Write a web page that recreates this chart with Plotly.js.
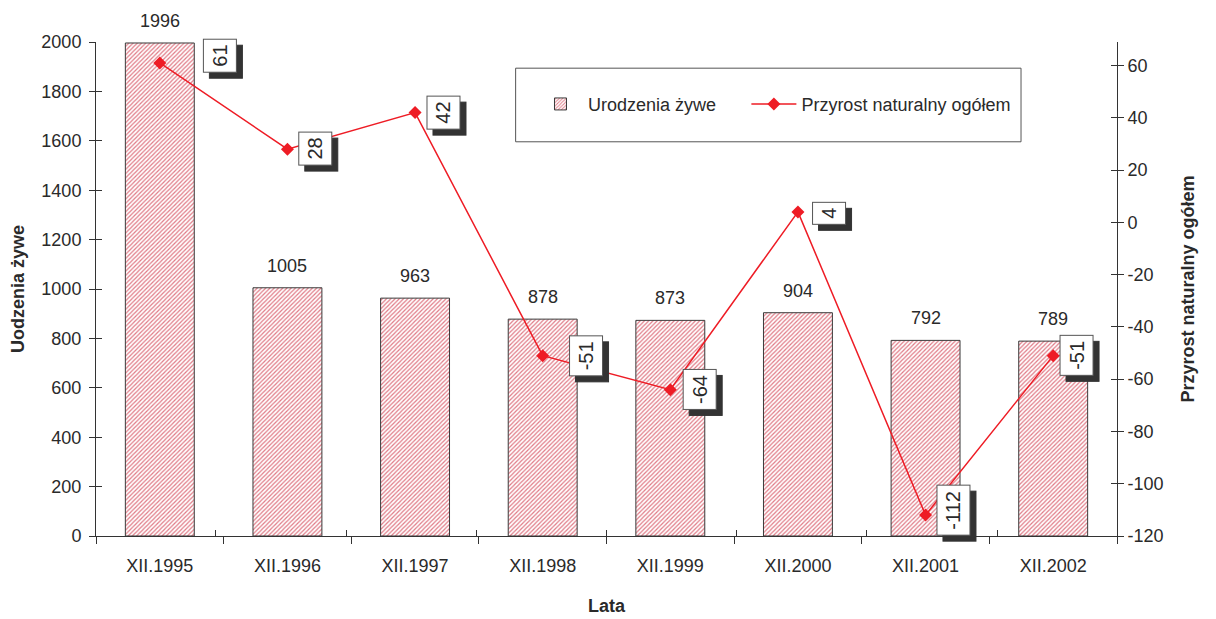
<!DOCTYPE html>
<html><head><meta charset="utf-8">
<script src="https://cdn.plot.ly/plotly-3.0.1.min.js"></script>
<style>body{margin:0;background:#fff}#chart{width:1216px;height:619px}</style>
</head><body><div id="chart"></div>
<script>
const categories = ['XII.1995','XII.1996','XII.1997','XII.1998','XII.1999','XII.2000','XII.2001','XII.2002'];
const births = [1996, 1005, 963, 878, 873, 904, 792, 789];
const growth = [61, 28, 42, -51, -64, 4, -112, -51];
const seriesNames = ['Urodzenia żywe', 'Przyrost naturalny ogółem'];
const rightTicks = [-120, -100, -80, -60, -40, -20, 0, 20, 40, 60];
// label box placement relative to each point (px)
const labelDx = [60, 28, 28, 43, 29, 31, 28, 23];
const labelDy = [7, 1, 0, 0, 0, -1, 5, 0];

const FONT = 'Liberation Sans Narrow, Arial Narrow, Liberation Sans, Arial, sans-serif';
const TXT = '#2a2a2a';
const AX = '#333333';

const traces = [
  {type:'bar', x:categories, y:births, name:seriesNames[0], yaxis:'y', width:0.54, legend:'legend',
   marker:{color:'#ffffff', line:{color:'#3a3a3a', width:1},
           pattern:{shape:'/', fgcolor:'#e07a86', bgcolor:'#ffffff', size:3, solidity:0.4, fillmode:'replace'}},
   hoverinfo:'x+y'},
  {type:'scatter', mode:'lines+markers', x:categories, y:growth, name:seriesNames[1], yaxis:'y2', legend:'legend2',
   line:{color:'#ee1c25', width:1.5}, marker:{symbol:'diamond', size:10, color:'#ee1c25'}, cliponaxis:false},
  {type:'scatter', mode:'markers', x:categories, y:births, xaxis:'x2', yaxis:'y3', showlegend:false,
   marker:{opacity:0}, hoverinfo:'skip'},
  {type:'scatter', mode:'markers', x:categories, y:growth, xaxis:'x2', yaxis:'y4', showlegend:false,
   marker:{opacity:0}, hoverinfo:'skip'}
];

const annotations = [];
births.forEach((v,i)=>{
  annotations.push({x:categories[i], y:v, xref:'x', yref:'y', text:String(v), showarrow:false,
    yanchor:'bottom', yshift:10, font:{family:FONT, size:18, color:TXT}});
});
growth.forEach((v,i)=>{
  const base = {x:categories[i], y:v, xref:'x', yref:'y2', text:String(v), showarrow:false,
    textangle:-90, borderpad:5, borderwidth:1};
  annotations.push(Object.assign({}, base, {xshift:labelDx[i]+6, yshift:labelDy[i]-6,
    bgcolor:'#333333', bordercolor:'#333333', font:{family:FONT, size:20, color:'#333333'}}));
  annotations.push(Object.assign({}, base, {xshift:labelDx[i], yshift:labelDy[i],
    bgcolor:'#ffffff', bordercolor:'#555555', font:{family:FONT, size:20, color:TXT}}));
});

const tickFont = {family:FONT, size:18, color:TXT};
const titleFont = {family:FONT, size:18, color:TXT, weight:'bold'};
const legendBase = {orientation:'h', y:0.874, xanchor:'left', yanchor:'middle',
  font:{family:FONT, size:18, color:TXT}, bgcolor:'rgba(0,0,0,0)', itemwidth:45};

const layout = {
  width:1216, height:619,
  margin:{l:96, r:99, t:42, b:83},
  paper_bgcolor:'#ffffff', plot_bgcolor:'#ffffff',
  font:{family:FONT, color:TXT},
  showlegend:true,
  legend:Object.assign({x:0.428}, legendBase),
  legend2:Object.assign({x:0.637}, legendBase),
  xaxis:{type:'category', showgrid:false, zeroline:false, showline:true, linecolor:AX, linewidth:1,
         ticks:'outside', ticklen:7, tickcolor:AX, tickson:'boundaries', tickfont:tickFont, ticklabelstandoff:13,
         title:{text:'Lata', font:titleFont, standoff:24}},
  xaxis2:{type:'category', overlaying:'x', anchor:'y3', showgrid:false, zeroline:false, showline:false,
          ticks:'inside', ticklen:6, tickcolor:AX, tickson:'boundaries', showticklabels:false},
  yaxis:{range:[0,2000], dtick:200, showgrid:false, zeroline:false, showline:true, linecolor:AX, linewidth:1,
         ticks:'outside', ticklen:6, tickcolor:AX, tickfont:tickFont, ticklabelstandoff:4,
         title:{text:'Uodzenia żywe', font:titleFont, standoff:12}},
  yaxis2:{overlaying:'y', side:'right', range:[-120,69], tickvals:rightTicks, ticktext:rightTicks.map(String),
          showgrid:false, zeroline:false, showline:true, linecolor:AX, linewidth:1,
          ticks:'outside', ticklen:6, tickcolor:AX, tickfont:tickFont,
          title:{text:'Przyrost naturalny ogółem', font:titleFont, standoff:18}},
  yaxis3:{overlaying:'y', side:'left', range:[0,2000], dtick:200, showgrid:false, zeroline:false,
          showline:false, ticks:'inside', ticklen:6, tickcolor:AX, showticklabels:false},
  yaxis4:{overlaying:'y', side:'right', range:[-120,69], tickvals:rightTicks,
          showgrid:false, zeroline:false, showline:false, ticks:'inside', ticklen:6, tickcolor:AX, showticklabels:false},
  shapes:[{type:'rect', xref:'paper', yref:'paper', x0:0.411, x1:0.906, y0:0.798, y1:0.947,
           line:{color:'#555555', width:1}, fillcolor:'rgba(0,0,0,0)', layer:'above'}],
  annotations:annotations
};

Plotly.newPlot('chart', traces, layout, {displayModeBar:false, staticPlot:true});
</script></body></html>
